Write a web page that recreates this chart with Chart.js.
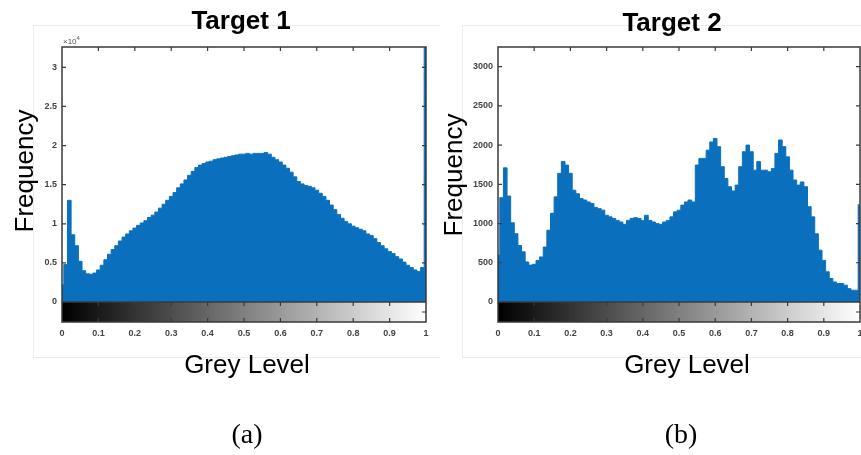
<!DOCTYPE html>
<html>
<head>
<meta charset="utf-8">
<script src="https://cdn.jsdelivr.net/npm/chart.js@4.4.0/dist/chart.umd.min.js"></script>
<style>
  html, body { margin: 0; padding: 0; background: #fff; }
  #wrap { position: relative; width: 861px; height: 455px; overflow: hidden; }
  canvas { position: absolute; top: 0; }
</style>
</head>
<body>
<div id="wrap">
  <canvas id="chartA" width="440" height="455" style="left:0"></canvas>
  <canvas id="chartB" width="421" height="455" style="left:440px"></canvas>
</div>
<script>
// grey level bins (x) shared by both histograms
const greyLevels = [
  0.00, 0.01, 0.02, 0.03, 0.04, 0.05, 0.06, 0.07, 0.08, 0.09,
  0.10, 0.11, 0.12, 0.13, 0.14, 0.15, 0.16, 0.17, 0.18, 0.19,
  0.20, 0.21, 0.22, 0.23, 0.24, 0.25, 0.26, 0.27, 0.28, 0.29,
  0.30, 0.31, 0.32, 0.33, 0.34, 0.35, 0.36, 0.37, 0.38, 0.39,
  0.40, 0.41, 0.42, 0.43, 0.44, 0.45, 0.46, 0.47, 0.48, 0.49,
  0.50, 0.51, 0.52, 0.53, 0.54, 0.55, 0.56, 0.57, 0.58, 0.59,
  0.60, 0.61, 0.62, 0.63, 0.64, 0.65, 0.66, 0.67, 0.68, 0.69,
  0.70, 0.71, 0.72, 0.73, 0.74, 0.75, 0.76, 0.77, 0.78, 0.79,
  0.80, 0.81, 0.82, 0.83, 0.84, 0.85, 0.86, 0.87, 0.88, 0.89,
  0.90, 0.91, 0.92, 0.93, 0.94, 0.95, 0.96, 0.97, 0.98, 0.99,
  1.00
];

// Target 1 pixel counts
const target1Freq = [
  2200, 4800, 13000, 8600, 7200, 5200, 4000, 3600, 3550, 3700,
  4100, 4700, 5400, 6100, 6700, 7200, 7800, 8300, 8700, 9100,
  9450, 9800, 10100, 10400, 10800, 11100, 11500, 12000, 12500, 13000,
  13500, 14000, 14600, 15100, 15600, 16200, 16700, 17200, 17500, 17700,
  17900, 18000, 18200, 18300, 18400, 18500, 18600, 18700, 18800, 18900,
  18900, 19000, 18900, 19000, 19000, 19000, 19100, 18900, 18500, 18200,
  17900, 17500, 17100, 16600, 16000, 15400, 15100, 14900, 14800, 14600,
  14300, 13900, 13500, 13000, 12400, 11800, 11200, 10700, 10300, 10000,
  9700, 9500, 9300, 9100, 8700, 8500, 8100, 7600, 7200, 6800,
  6450, 6200, 5800, 5500, 5100, 4700, 4400, 4100, 3900, 4400,
  33000
];

// Target 2 pixel counts
const target2Freq = [
  600, 1330, 1710, 1350, 1010, 870, 720, 640, 510, 470,
  480, 530, 575, 700, 915, 1130, 1340, 1640, 1790, 1745,
  1640, 1425, 1380, 1320, 1300, 1275, 1255, 1205, 1190, 1170,
  1105, 1085, 1065, 1040, 1020, 990, 1040, 1065, 1075, 1065,
  1040, 1105, 1040, 1020, 1000, 990, 1020, 1040, 1085, 1150,
  1170, 1235, 1275, 1300, 1275, 1745, 1830, 1830, 1935, 2040,
  2085, 1980, 1725, 1575, 1470, 1415, 1490, 1725, 1915, 2000,
  1915, 1680, 1790, 1680, 1680, 1660, 1700, 1895, 2065, 1980,
  1850, 1680, 1555, 1490, 1530, 1470, 1215, 1085, 870, 660,
  530, 385, 300, 255, 235, 235, 215, 170, 150, 150,
  1240
];

const xTickValues = [0, 0.1, 0.2, 0.3, 0.4, 0.5, 0.6, 0.7, 0.8, 0.9, 1];
const xTickLabels = ['0', '0.1', '0.2', '0.3', '0.4', '0.5', '0.6', '0.7', '0.8', '0.9', '1'];

const y1TickValues = [0, 5000, 10000, 15000, 20000, 25000, 30000];
const y1TickLabels = ['0', '0.5', '1', '1.5', '2', '2.5', '3'];
const y2TickValues = [0, 500, 1000, 1500, 2000, 2500, 3000];
const y2TickLabels = ['0', '500', '1000', '1500', '2000', '2500', '3000'];

const SANS = '"Liberation Sans", Arial, sans-serif';
const SERIF = '"Liberation Serif", "Times New Roman", serif';
const BLUE = '#0a70be';

// draws the MATLAB-like box, grey colour bar, tick marks and all big texts
function matlabFrame(cfg) {
  return {
    id: 'matlabFrame',
    afterDraw(chart) {
      const { ctx, chartArea: a, scales } = chart;
      const barH = 20;
      const bottom = a.bottom + barH;
      ctx.save();

      // faint figure frame
      ctx.strokeStyle = '#ececec';
      ctx.lineWidth = 1;
      ctx.strokeRect(cfg.frame[0] + 0.5, cfg.frame[1] + 0.5, cfg.frame[2], cfg.frame[3]);

      // grey level colour bar
      const grad = ctx.createLinearGradient(a.left, 0, a.right, 0);
      grad.addColorStop(0, '#000');
      grad.addColorStop(1, '#fff');
      ctx.fillStyle = grad;
      ctx.fillRect(a.left, a.bottom, a.right - a.left, barH);

      // axes box
      ctx.strokeStyle = '#3a3a3a';
      ctx.lineWidth = 1.5;
      ctx.strokeRect(a.left, a.top, a.right - a.left, bottom - a.top);
      ctx.beginPath();
      ctx.moveTo(a.left, a.bottom);
      ctx.lineTo(a.right, a.bottom);
      ctx.stroke();

      // inner tick marks
      ctx.lineWidth = 1.2;
      ctx.beginPath();
      xTickValues.forEach(v => {
        if (v <= 0 || v >= 1) return;
        const px = scales.x.getPixelForValue(v);
        ctx.moveTo(px, a.top); ctx.lineTo(px, a.top + 4);
        ctx.moveTo(px, a.bottom); ctx.lineTo(px, a.bottom + 4);
        ctx.moveTo(px, bottom); ctx.lineTo(px, bottom - 4);
      });
      cfg.yTicks.forEach(v => {
        if (v <= 0) return;
        const py = scales.y.getPixelForValue(v);
        ctx.moveTo(a.left, py); ctx.lineTo(a.left + 4, py);
        ctx.moveTo(a.right, py); ctx.lineTo(a.right - 4, py);
      });
      ctx.moveTo(a.right, a.bottom + barH / 2);
      ctx.lineTo(a.right - 4, a.bottom + barH / 2);
      ctx.stroke();

      // texts
      ctx.fillStyle = '#000';
      ctx.textAlign = 'center';
      ctx.textBaseline = 'alphabetic';
      ctx.font = 'bold 26px ' + SANS;
      ctx.fillText(cfg.title, cfg.titleX, cfg.titleY);

      ctx.font = '26px ' + SANS;
      ctx.fillText('Grey Level', cfg.xLabelX, cfg.xLabelY);

      ctx.save();
      ctx.translate(cfg.yLabelX, cfg.yLabelY);
      ctx.rotate(-Math.PI / 2);
      ctx.fillText('Frequency', 0, 0);
      ctx.restore();

      ctx.font = '28px ' + SERIF;
      ctx.fillText(cfg.caption, cfg.capX, cfg.capY);

      if (cfg.exponent) {
        ctx.fillStyle = '#555';
        ctx.textAlign = 'left';
        ctx.font = '8px ' + SANS;
        ctx.fillText('\u00d710', a.left + 1, a.top - 3);
        const w = ctx.measureText('\u00d710').width;
        ctx.font = '6px ' + SANS;
        ctx.fillText(cfg.exponent, a.left + 1 + w, a.top - 7);
      }
      ctx.restore();
    }
  };
}

function makeHistogram(canvasId, freq, yMax, yTicks, yTickLabels, axisWidth, padRight, cfg) {
  return new Chart(document.getElementById(canvasId), {
    type: 'line',
    data: {
      datasets: [{
        data: greyLevels.map((g, i) => ({ x: g, y: freq[i] })),
        stepped: 'middle',
        fill: 'origin',
        backgroundColor: BLUE,
        borderColor: BLUE,
        borderWidth: 1,
        pointRadius: 0
      }]
    },
    options: {
      responsive: false,
      animation: false,
      layout: { padding: { top: 47, right: padRight, left: 0, bottom: 0 } },
      plugins: { legend: { display: false }, tooltip: { enabled: false } },
      scales: {
        x: {
          type: 'linear',
          min: 0,
          max: 1,
          grid: { display: false, drawTicks: false },
          border: { display: false },
          afterBuildTicks: s => { s.ticks = xTickValues.map(v => ({ value: v })); },
          afterFit: s => {
            s.height = 455 - 302;
            // the big label gap below the colour bar must not eat the plot width
            s.paddingLeft = 0;
            s.paddingRight = 0;
          },
          ticks: {
            autoSkip: false,
            maxRotation: 0,
            padding: 26,
            color: '#444',
            font: { family: SANS, size: 9, weight: 'bold' },
            callback: (v, i) => xTickLabels[i]
          }
        },
        y: {
          min: 0,
          max: yMax,
          grid: { display: false, drawTicks: false },
          border: { display: false },
          afterBuildTicks: s => { s.ticks = yTicks.map(v => ({ value: v })); },
          afterFit: s => {
            s.width = axisWidth;
            s.paddingTop = 0;
            s.paddingBottom = 0;
          },
          ticks: {
            padding: 5,
            color: '#444',
            font: { family: SANS, size: 9, weight: 'bold' },
            callback: (v, i) => yTickLabels[i]
          }
        }
      }
    },
    plugins: [matlabFrame(Object.assign({ yTicks }, cfg))]
  });
}

makeHistogram('chartA', target1Freq, 32600, y1TickValues, y1TickLabels, 62, 14, {
  title: 'Target 1', titleX: 241, titleY: 29,
  xLabelX: 247, xLabelY: 373,
  yLabelX: 33, yLabelY: 171,
  caption: '(a)', capX: 247, capY: 443,
  exponent: '4',
  frame: [33, 25, 412, 332]
});

makeHistogram('chartB', target2Freq, 3250, y2TickValues, y2TickLabels, 58, 1, {
  title: 'Target 2', titleX: 232, titleY: 31,
  xLabelX: 247, xLabelY: 373,
  yLabelX: 22, yLabelY: 175,
  caption: '(b)', capX: 241, capY: 443,
  exponent: null,
  frame: [22, 25, 420, 332]
});
</script>
</body>
</html>
